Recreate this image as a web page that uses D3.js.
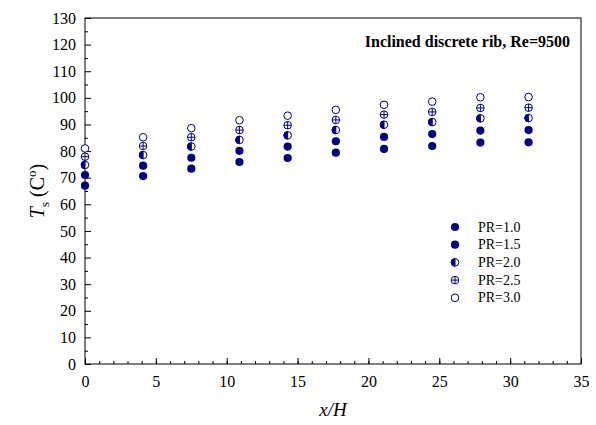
<!DOCTYPE html>
<html>
<head>
<meta charset="utf-8">
<script src="https://cdn.jsdelivr.net/npm/d3@7"></script>
<style>
  body { margin: 0; background: #fff; }
  text { font-family: "Liberation Serif", "Times New Roman", serif; }
</style>
</head>
<body>
<div id="chart"></div>
<script>
'use strict'

// x/H positions of the measuring stations
const xPos = [0, 4.1, 7.5, 10.9, 14.3, 17.7, 21.1, 24.5, 27.9, 31.3];

// surface temperature for each pitch ratio
const pr10 = [67.0, 70.6, 73.4, 75.9, 77.4, 79.4, 80.8, 81.9, 83.2, 83.3];
const pr15 = [71.0, 74.5, 77.5, 80.1, 81.7, 83.7, 85.3, 86.4, 87.7, 87.9];
const pr20 = [74.8, 78.5, 81.7, 84.2, 85.9, 87.9, 89.9, 90.9, 92.3, 92.4];
const pr25 = [77.9, 81.9, 85.2, 87.9, 89.7, 91.7, 93.7, 94.7, 96.2, 96.3];
const pr30 = [81.0, 85.2, 88.6, 91.6, 93.3, 95.5, 97.4, 98.6, 100.2, 100.3];

const seriesNames = ["PR=1.0", "PR=1.5", "PR=2.0", "PR=2.5", "PR=3.0"];
const seriesVals = [pr10, pr15, pr20, pr25, pr30];
const seriesSym = ["filled", "filled", "half", "cross", "open"];

const xTicks = [0, 5, 10, 15, 20, 25, 30, 35];
const yTicks = d3.range(0, 131, 10);

////////////////////////////////////////
////////////// SVG Setup ///////////////
////////////////////////////////////////

const width = 596, height = 425;
const margin = { left: 85, right: 15, top: 18, bottom: 61 };
const navy = "#000080";

const svg = d3.select('#chart').append('svg')
  .attr('width', width)
  .attr('height', height);

const x = d3.scaleLinear().domain([0, 35]).range([margin.left, width - margin.right]);
const y = d3.scaleLinear().domain([0, 130]).range([height - margin.bottom, margin.top]);

// frame
svg.append('rect')
  .attr('x', x(0)).attr('y', y(130))
  .attr('width', x(35) - x(0)).attr('height', y(0) - y(130))
  .attr('fill', 'none').attr('stroke', '#000').attr('stroke-width', 1);

// x axis, ticks point inward
svg.append('g')
  .attr('transform', `translate(0,${y(0)})`)
  .call(d3.axisBottom(x).tickValues(d3.range(0, 36, 1)).tickSize(-3).tickFormat(''))
  .call(g => g.select('.domain').remove());

svg.append('g')
  .attr('transform', `translate(0,${y(0)})`)
  .call(d3.axisBottom(x).tickValues(xTicks).tickSize(-6).tickPadding(12))
  .call(g => g.select('.domain').remove())
  .call(g => g.selectAll('text').attr('font-size', 16).attr('font-family', '"Liberation Serif", serif').attr('fill', '#000'));

// y axis
svg.append('g')
  .attr('transform', `translate(${x(0)},0)`)
  .call(d3.axisLeft(y).tickValues(d3.range(5, 130, 10)).tickSize(-3).tickFormat(''))
  .call(g => g.select('.domain').remove());

svg.append('g')
  .attr('transform', `translate(${x(0)},0)`)
  .call(d3.axisLeft(y).tickValues(yTicks).tickSize(-6).tickPadding(9))
  .call(g => g.select('.domain').remove())
  .call(g => g.selectAll('text').attr('font-size', 16).attr('font-family', '"Liberation Serif", serif').attr('fill', '#000'));

svg.selectAll('.tick line').attr('stroke', '#000');

////////////////////////////////////////
////////////// Markers /////////////////
////////////////////////////////////////

function drawMarker(g, sym) {
  const r = 3.8;
  if (sym === 'filled') {
    g.append('circle').attr('r', 4.1).attr('fill', navy);
  } else if (sym === 'open') {
    g.append('circle').attr('r', r).attr('fill', '#fff').attr('stroke', navy).attr('stroke-width', 1);
  } else if (sym === 'cross') {
    g.append('circle').attr('r', r).attr('fill', '#fff').attr('stroke', navy).attr('stroke-width', 1);
    g.append('path').attr('d', `M${-r},0H${r}M0,${-r}V${r}`).attr('stroke', navy).attr('stroke-width', 1);
  } else if (sym === 'half') {
    g.append('circle').attr('r', r).attr('fill', '#fff').attr('stroke', navy).attr('stroke-width', 1);
    g.append('path').attr('d', `M0,${-r}A${r},${r} 0 0 0 0,${r}Z`).attr('fill', navy).attr('stroke', navy).attr('stroke-width', 1);
  }
}

seriesVals.forEach((vals, si) => {
  svg.append('g')
    .selectAll('g')
    .data(vals)
    .join('g')
    .attr('transform', (d, i) => `translate(${x(xPos[i])},${y(d)})`)
    .each(function () { drawMarker(d3.select(this), seriesSym[si]); });
});

////////////////////////////////////////
////////////// Legend //////////////////
////////////////////////////////////////

const legend = svg.append('g').attr('transform', 'translate(455,227)');
seriesNames.forEach((name, i) => {
  const row = legend.append('g').attr('transform', `translate(0,${i * 17.7})`);
  drawMarker(row, seriesSym[i]);
  row.append('text')
    .attr('x', 23).attr('y', 0)
    .attr('dominant-baseline', 'central')
    .attr('font-size', 14)
    .text(name);
});

////////////////////////////////////////
////////////// Labels //////////////////
////////////////////////////////////////

svg.append('text')
  .attr('x', 570).attr('y', 47)
  .attr('text-anchor', 'end')
  .attr('font-size', 16)
  .attr('font-weight', 'bold')
  .text('Inclined discrete rib, Re=9500');

svg.append('text')
  .attr('x', (x(0) + x(35)) / 2).attr('y', 416)
  .attr('text-anchor', 'middle')
  .attr('font-size', 19)
  .attr('font-style', 'italic')
  .text('x/H');

const yl = svg.append('text')
  .attr('transform', `translate(44,${(y(0) + y(130)) / 2}) rotate(-90)`)
  .attr('text-anchor', 'middle')
  .attr('font-size', 20);
yl.append('tspan').attr('font-style', 'italic').text('T');
yl.append('tspan').attr('font-size', 13).attr('dy', 5).text('s');
yl.append('tspan').attr('dy', -5).text(' (C');
yl.append('tspan').attr('font-size', 13).attr('dy', -8).text('o');
yl.append('tspan').attr('dy', 8).text(')');
</script>
</body>
</html>
